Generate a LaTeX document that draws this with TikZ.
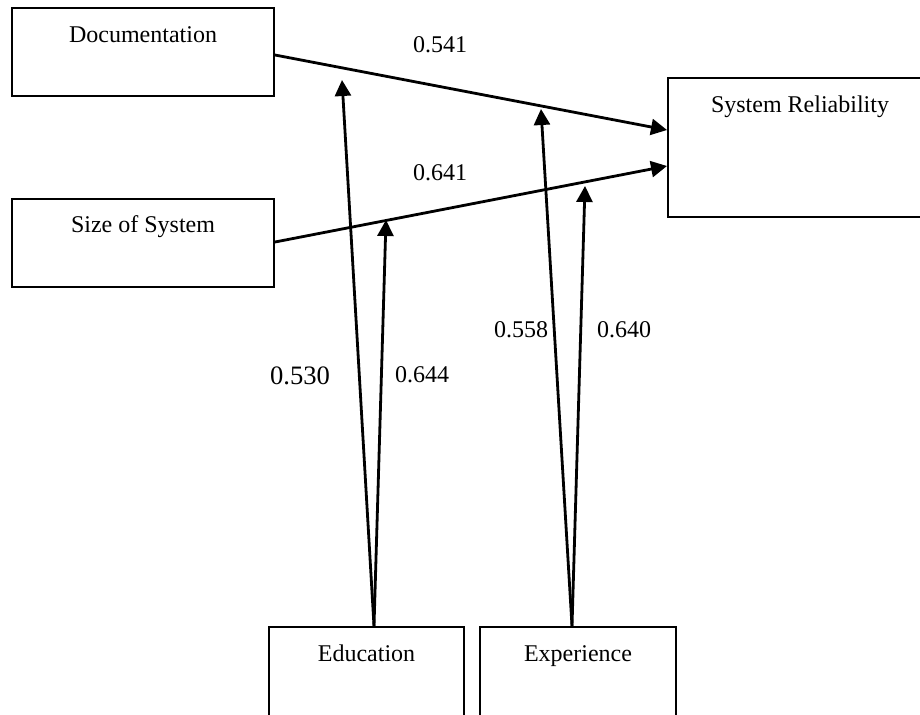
\documentclass[tikz,border=0pt]{standalone}
\usepackage{fontspec}
\setmainfont{Liberation Serif}
\usetikzlibrary{arrows.meta,calc}
\begin{document}
\begin{tikzpicture}[x=0.5pt,y=-0.5pt,
  box/.style={draw,line width=1pt,rectangle,inner sep=0pt},
  boxtext/.style={anchor=base,inner sep=0pt,font=\fontsize{12}{14}\selectfont},
  lbl/.style={anchor=base,inner sep=0pt,font=\fontsize{12}{14}\selectfont},
  conn/.style={line width=1.4pt,-{Triangle[length=8pt,width=8pt]}}]
\useasboundingbox (0,0) rectangle (920,714);
\clip (0,0) rectangle (920,714);
% boxes
\node[box,minimum width=131pt,minimum height=44pt] (doc) at (143,52) {};
\node[box,minimum width=131pt,minimum height=44pt] (size) at (143,243) {};
\node[box,minimum width=132pt,minimum height=69.5pt] (sr) at (800,147.5) {};
\node[box,minimum width=97.5pt,minimum height=46pt] (edu) at (366.5,673) {};
\node[box,minimum width=98pt,minimum height=46pt] (exp) at (578,673) {};
% texts
\node[boxtext] (doct) at (143,42) {Documentation};
\node[boxtext] (sizet) at (143,232) {Size of System};
\node[boxtext] (srt) at (800,112) {System Reliability};
\node[boxtext] (edut) at (366.5,661) {Education};
\node[boxtext] (expt) at (578,661) {Experience};
% connector points
\coordinate (docout) at ($(doc.east)+(0,3)$);
\coordinate (sizeout) at ($(size.east)+(0,-1)$);
\coordinate (srin1) at ($(sr.west)+(0,-17.5)$);
\coordinate (srin2) at ($(sr.west)+(0,18.5)$);
\coordinate (edusrc) at ($(edu.north)+(7.5,0)$);
\coordinate (expsrc) at ($(exp.north)+(-6,0)$);
\coordinate (tipa) at (342,80);
\coordinate (tipb) at (386,220);
\coordinate (tipc) at (541,109);
\coordinate (tipd) at (585,186);
% connectors
\draw[conn] (docout) -- (srin1);
\draw[conn] (sizeout) -- (srin2);
\draw[conn] (edusrc) -- (tipa);
\draw[conn] (edusrc) -- (tipb);
\draw[conn] (expsrc) -- (tipc);
\draw[conn] (expsrc) -- (tipd);
% labels
\node[lbl] (l541) at (440,52) {0.541};
\node[lbl] (l641) at (440,180) {0.641};
\node[lbl,font=\fontsize{13.3}{15}\selectfont] (l530) at (300,384) {0.530};
\node[lbl] (l644) at (422,382) {0.644};
\node[lbl] (l558) at (521,337) {0.558};
\node[lbl] (l640) at (624,337) {0.640};
\end{tikzpicture}
\end{document}
